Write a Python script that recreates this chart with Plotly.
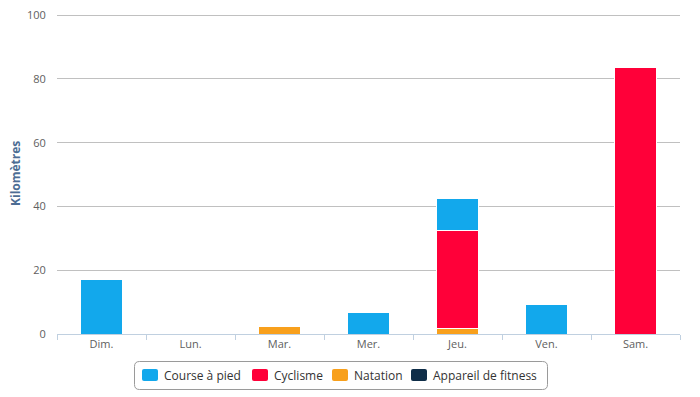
import plotly.graph_objects as go

days = ["Dim.", "Lun.", "Mar.", "Mer.", "Jeu.", "Ven.", "Sam."]
course = [17.2, 0, 0, 6.6, 9.8, 9.4, 0]
cyclisme = [0, 0, 0, 0, 30.8, 0, 83.5]
natation = [0, 0, 2.2, 0, 1.8, 0, 0]
fitness = [0, 0, 0, 0, 0, 0, 0]
y_ticks = [0, 20, 40, 60, 80, 100]

series_names = ["Course à pied", "Cyclisme", "Natation", "Appareil de fitness"]
series_values = [course, cyclisme, natation, fitness]
series_colors = ["#12a8ec", "#ff0039", "#f8a01c", "#0f2d48"]

W, H = 700, 397
L, R, T, B = 57, 20, 14, 63
PW, PH = W - L - R, H - T - B


def px(x):
    return (x - L) / PW


def py(y):
    return (H - B - y) / PH


fig = go.Figure()
# Highcharts stacks the first series on top: add in reverse order
for name, vals, color in reversed(list(zip(series_names, series_values, series_colors))):
    fig.add_trace(go.Bar(
        x=days, y=vals, name=name, showlegend=False,
        marker=dict(color=color, line=dict(color="white", width=1)),
    ))

shapes = []
annotations = []


def rounded_rect(x0, y0, x1, y1, rx, ry):
    return (f"M {x0+rx},{y0} L {x1-rx},{y0} Q {x1},{y0} {x1},{y0+ry} "
            f"L {x1},{y1-ry} Q {x1},{y1} {x1-rx},{y1} L {x0+rx},{y1} "
            f"Q {x0},{y1} {x0},{y1-ry} L {x0},{y0+ry} Q {x0},{y0} {x0+rx},{y0} Z")


box_x0, box_x1, box_y0, box_y1 = 134.5, 547.5, 361.5, 389.5
rx, ry = 5 / PW, 5 / PH
shapes.append(dict(type="path", xref="paper", yref="paper",
                   path=rounded_rect(px(box_x0), py(box_y1), px(box_x1), py(box_y0), rx, ry),
                   line=dict(color="#9a9a9a", width=1), fillcolor="rgba(0,0,0,0)"))

sym_x = [142, 252, 332, 411]
txt_x = [162, 272, 352, 431]
cy = 375
srx, sry = 2 / PW, 2 / PH
for sx, tx, name, color in zip(sym_x, txt_x, series_names, series_colors):
    shapes.append(dict(type="path", xref="paper", yref="paper",
                       path=rounded_rect(px(sx), py(cy + 6), px(sx + 16), py(cy - 6), srx, sry),
                       fillcolor=color, line=dict(width=0)))
    annotations.append(dict(text=name, xref="paper", yref="paper",
                            x=px(tx), y=py(cy), xanchor="left", yanchor="middle",
                            showarrow=False,
                            font=dict(size=12, color="#333333")))

annotations.append(dict(text="<b>Kilomètres</b>", xref="paper", yref="paper",
                        x=px(15), y=py(174), textangle=-90, showarrow=False,
                        xanchor="center", yanchor="middle",
                        font=dict(size=12, color="#4d6d94")))

fig.update_layout(
    barmode="stack",
    bargap=0.53,
    width=W, height=H,
    margin=dict(l=L, r=R, t=T, b=B),
    paper_bgcolor="white", plot_bgcolor="white",
    font=dict(family="Open Sans, DejaVu Sans, sans-serif", size=11, color="#606060"),
    showlegend=False,
    shapes=shapes,
    annotations=annotations,
    xaxis=dict(
        automargin=False,
        showgrid=False,
        showline=True, linecolor="#c0d0e0", linewidth=1,
        ticks="outside", tickson="boundaries", ticklen=5, tickcolor="#c0d0e0",
        tickfont=dict(size=11, color="#606060"),
    ),
    yaxis=dict(
        automargin=False,
        range=[0, 100.35], tickvals=y_ticks,
        showgrid=True, gridcolor="#c0c0c0", gridwidth=1,
        zeroline=False, showline=False,
        ticks="outside", ticklen=8, tickcolor="rgba(0,0,0,0)",
        tickfont=dict(size=11, color="#606060"),
    ),
)
fig.write_html("out.html", config={"displayModeBar": False},
               post_script="document.body.style.margin='0px';")
